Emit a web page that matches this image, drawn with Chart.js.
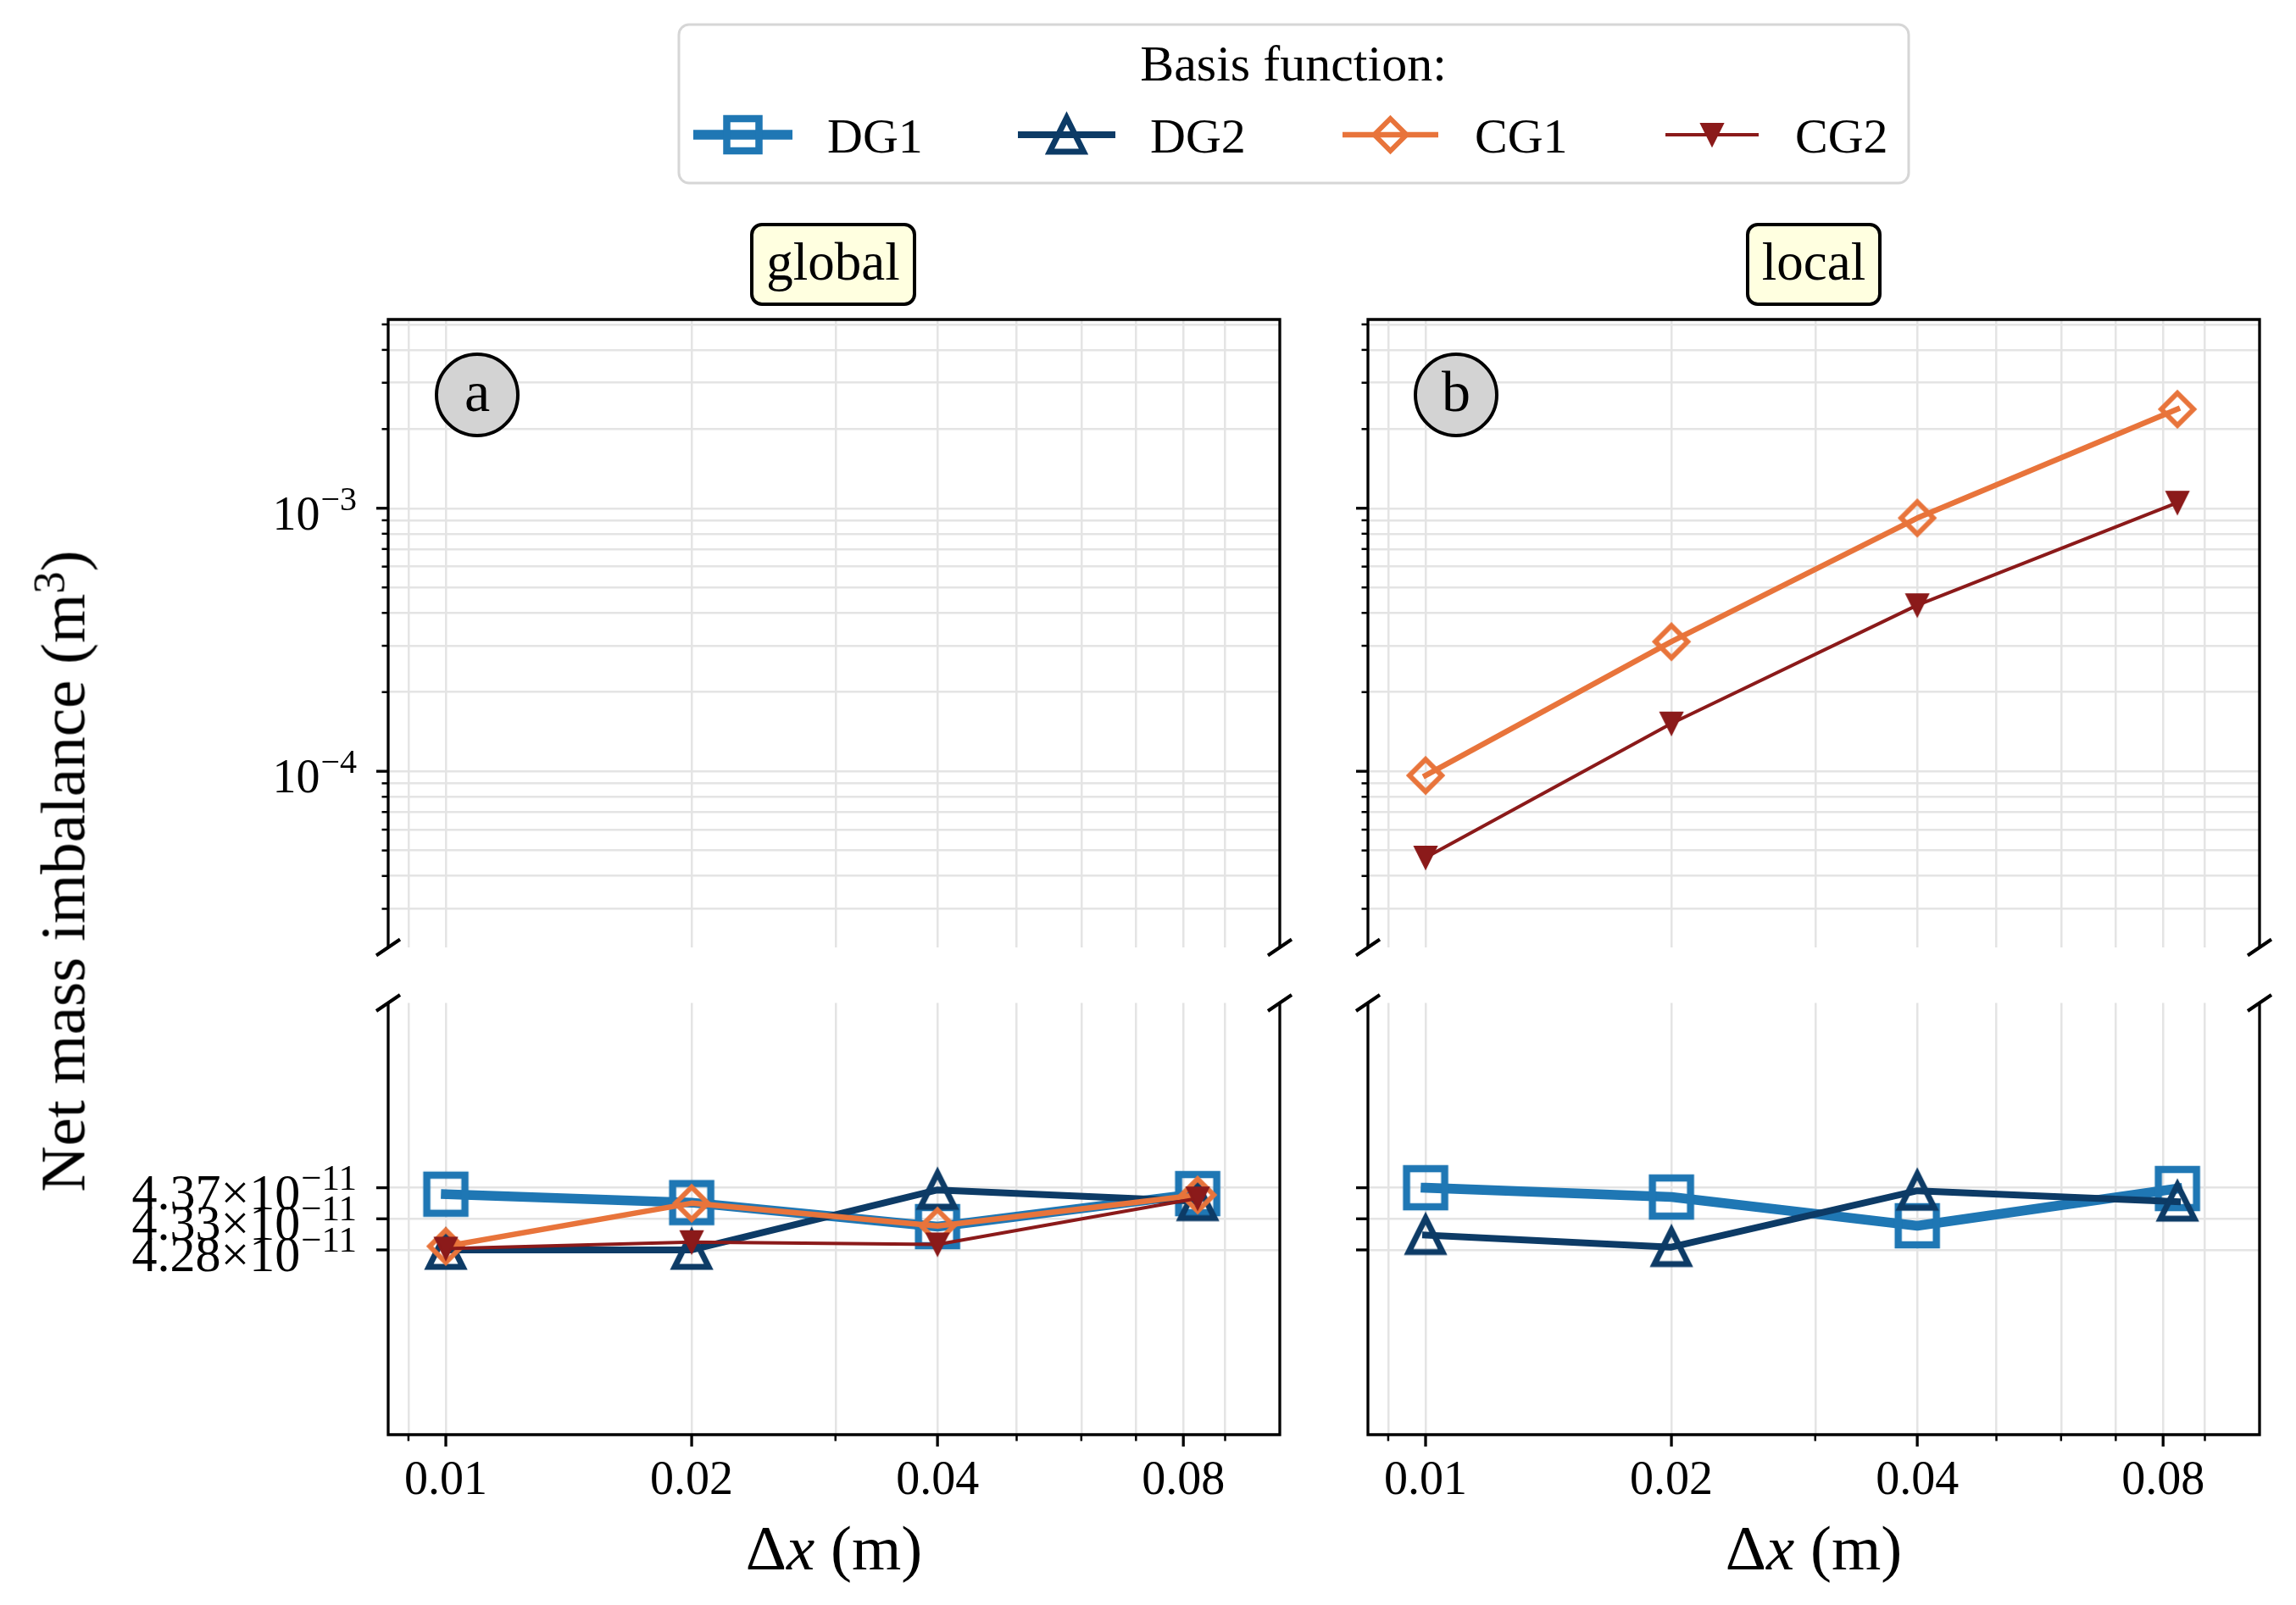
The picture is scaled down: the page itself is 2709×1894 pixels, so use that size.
<!DOCTYPE html>
<html>
<head>
<meta charset="utf-8">
<script src="https://cdn.jsdelivr.net/npm/chart.js@4.4.0/dist/chart.umd.min.js"></script>
<style>
  html, body { margin: 0; padding: 0; background: #fff; overflow: hidden; }
  #fig { position: relative; width: 2709px; height: 1894px; font-family: 'Liberation Serif', 'Times New Roman', serif; color: #000; }
  #fig canvas { position: absolute; }
  .tag { position: absolute; box-sizing: border-box; background: #ffffe0; border: 4px solid #000; border-radius: 14px;
         font-size: 63px; line-height: 1; display: flex; align-items: center; justify-content: center; padding-bottom: 6px; }
  .letter { position: absolute; box-sizing: border-box; width: 100px; height: 100px; border-radius: 50%; background: #d3d3d3;
            border: 4.5px solid #000; font-size: 68px; line-height: 1; display: flex; align-items: center; justify-content: center; padding-bottom: 8px; }
  .xlab { position: absolute; font-size: 75px; line-height: 1; white-space: nowrap; transform: translate(-50%, -50%); }
  #ylab { position: absolute; font-size: 75px; line-height: 1; white-space: nowrap; left: 74px; top: 1028px;
          transform: translate(-50%, -50%) rotate(-90deg); }
  sup { font-size: 0.7em; vertical-align: 0.45em; line-height: 0; }
</style>
</head>
<body>
<div id="fig">
  <svg id="legend" width="2709" height="240" style="position:absolute;left:0;top:0">
    <rect x="801" y="29" width="1451" height="187" rx="12" fill="#fff" stroke="#d6d6d6" stroke-width="3"/>
    <text x="1526" y="95" font-size="60" text-anchor="middle" font-family="Liberation Serif">Basis function:</text>
    <g id="legend-items"></g>
  </svg>

  <div class="tag" style="left:885px;top:263px;width:196px;height:98px">global</div>
  <div class="tag" style="left:2060px;top:263px;width:160px;height:98px">local</div>

  <canvas id="tl" width="1550" height="801" style="left:0;top:347px;width:1550px;height:801px"></canvas>
  <canvas id="bl" width="1550" height="651" style="left:0;top:1152px;width:1550px;height:651px"></canvas>
  <canvas id="tr" width="1169" height="801" style="left:1540px;top:347px;width:1169px;height:801px"></canvas>
  <canvas id="br" width="1169" height="651" style="left:1540px;top:1152px;width:1169px;height:651px"></canvas>

  <div class="letter" style="left:513px;top:416px">a</div>
  <div class="letter" style="left:1668px;top:416px">b</div>

  <div class="xlab" style="left:984px;top:1826px">Δ<i>x</i> (m)</div>
  <div class="xlab" style="left:2140px;top:1826px">Δ<i>x</i> (m)</div>
  <div id="ylab">Net mass imbalance (m<sup>3</sup>)</div>
</div>

<script>
// grid spacing (m)
const dxValues = [0.01, 0.02, 0.04, 0.0833];
const xMajorTicks = [0.01, 0.02, 0.04, 0.08];
const xMajorLabels = ['0.01', '0.02', '0.04', '0.08'];
const xMinorTicks = [0.009, 0.03, 0.05, 0.06, 0.07, 0.09];
const xRange = [0.0085, 0.105];

// net mass imbalance (m^3), global scheme
const globalDG1 = [4.3628e-11, 4.3502e-11, 4.3143e-11, 4.3636e-11];
const globalDG2 = [4.2795e-11, 4.2795e-11, 4.3691e-11, 4.3522e-11];
const globalCG1 = [4.2850e-11, 4.3493e-11, 4.3152e-11, 4.3616e-11];
const globalCG2 = [4.2815e-11, 4.2912e-11, 4.2878e-11, 4.3565e-11];

// local scheme
const localDG1 = [4.3724e-11, 4.3585e-11, 4.3156e-11, 4.3712e-11];
const localDG2 = [4.3017e-11, 4.2837e-11, 4.3679e-11, 4.3515e-11];
const localCG1 = [9.64e-5, 3.11e-4, 9.18e-4, 2.38e-3];
const localCG2 = [4.70e-5, 1.52e-4, 4.28e-4, 1.05e-3];

// upper (log) axis
const yLogRange = [2.14e-5, 5.22e-3];
const yLogMajorTicks = [1e-4, 1e-3];
const yLogMajorLabels = [['10', '−4'], ['10', '−3']];
const yLogMinorTicks = [3e-5, 4e-5, 5e-5, 6e-5, 7e-5, 8e-5, 9e-5,
                        2e-4, 3e-4, 4e-4, 5e-4, 6e-4, 7e-4, 8e-4, 9e-4,
                        2e-3, 3e-3, 4e-3, 5e-3];

// lower (linear) axis
const yLinRange = [4.0034e-11, 4.6486e-11];
const yLinTicks = [4.2795e-11, 4.3260e-11, 4.3724e-11];
const yLinLabels = [['4.28×10', '−11'], ['4.33×10', '−11'], ['4.37×10', '−11']];

const GRID = '#e4e4e4';
const FONT = "'Liberation Serif', 'Times New Roman', serif";

const series = {
  DG1: { color: '#1f77b4', lw: 11.5, shape: 'square',  size: 45, mlw: 8.5, filled: false, order: 4 },
  DG2: { color: '#0d3b66', lw: 8,    shape: 'up',      size: 40, mlw: 7,   filled: false, order: 3 },
  CG1: { color: '#e8743b', lw: 6.5,  shape: 'diamond', size: 38, mlw: 6,   filled: false, order: 2 },
  CG2: { color: '#8b1a1a', lw: 4,    shape: 'down',    size: 26, mlw: 2,   filled: true,  order: 1 }
};

function markerPath(g, shape, m, h) {
  g.beginPath();
  if (shape === 'square') g.rect(m - h, m - h, 2 * h, 2 * h);
  else if (shape === 'up') { g.moveTo(m, m - h); g.lineTo(m + h, m + h); g.lineTo(m - h, m + h); g.closePath(); }
  else if (shape === 'down') { g.moveTo(m, m + h); g.lineTo(m - h, m - h); g.lineTo(m + h, m - h); g.closePath(); }
  else { g.moveTo(m, m - h); g.lineTo(m + h, m); g.lineTo(m, m + h); g.lineTo(m - h, m); g.closePath(); }
}

function markerImage(s) {
  const pad = Math.ceil(s.mlw * 2 + 4);
  const dim = Math.ceil(s.size + 2 * pad);
  const c = document.createElement('canvas');
  c.width = c.height = dim;
  const g = c.getContext('2d');
  markerPath(g, s.shape, dim / 2, s.size / 2);
  if (s.filled) { g.fillStyle = s.color; g.fill(); }
  g.lineJoin = 'miter';
  g.lineWidth = s.mlw;
  g.strokeStyle = s.color;
  g.stroke();
  return c;
}

function dataset(name, values) {
  const s = series[name];
  return {
    label: name,
    data: dxValues.map((x, i) => ({ x: x, y: values[i] })),
    borderColor: s.color,
    backgroundColor: 'transparent',
    borderWidth: s.lw,
    borderCapStyle: 'square',
    borderJoinStyle: 'round',
    tension: 0,
    fill: false,
    pointStyle: markerImage(s),
    pointRadius: 20,
    pointHoverRadius: 20,
    order: s.order
  };
}

function supLabel(ctx, parts, rightX, py, size) {
  ctx.textBaseline = 'alphabetic';
  ctx.font = Math.round(size * 0.71) + 'px ' + FONT;
  const ew = ctx.measureText(parts[1]).width;
  ctx.textAlign = 'left';
  ctx.fillText(parts[1], rightX - ew, py + 2);
  ctx.font = size + 'px ' + FONT;
  ctx.textAlign = 'right';
  ctx.fillText(parts[0], rightX - ew - 1, py + 25);
}

function framePlugin(o) {
  return {
    id: 'frame',
    afterDraw(chart) {
      const ctx = chart.ctx, a = chart.chartArea, xs = chart.scales.x, ys = chart.scales.y;
      ctx.save();
      ctx.strokeStyle = '#000';
      ctx.fillStyle = '#000';
      ctx.lineCap = 'butt';
      // y ticks
      ys.ticks.forEach(t => {
        const major = o.yMajor.includes(t.value);
        const py = ys.getPixelForValue(t.value);
        ctx.lineWidth = major ? 3.3 : 2.5;
        ctx.beginPath();
        ctx.moveTo(a.left, py);
        ctx.lineTo(a.left - (major ? 14 : 7.5), py);
        ctx.stroke();
      });
      if (o.yLabels) {
        const size = o.xAxis ? 60 : 56;
        o.yMajor.forEach((v, i) => supLabel(ctx, o.yLabels[i], a.left - 37, ys.getPixelForValue(v), size));
      }
      // x ticks, lower panels only
      if (o.xAxis) {
        xs.ticks.forEach(t => {
          const major = xMajorTicks.includes(t.value);
          const px = xs.getPixelForValue(t.value);
          ctx.lineWidth = major ? 3.3 : 2.5;
          ctx.beginPath();
          ctx.moveTo(px, a.bottom);
          ctx.lineTo(px, a.bottom + (major ? 14 : 7.5));
          ctx.stroke();
        });
        ctx.font = '56px ' + FONT;
        ctx.textAlign = 'center';
        ctx.textBaseline = 'alphabetic';
        xMajorTicks.forEach((v, i) => ctx.fillText(xMajorLabels[i], xs.getPixelForValue(v), a.bottom + 70));
      }
      // spines
      const e = 1.65;
      ctx.lineWidth = 3.3;
      ctx.beginPath();
      ctx.moveTo(a.left, a.top); ctx.lineTo(a.left, a.bottom);
      ctx.moveTo(a.right, a.top); ctx.lineTo(a.right, a.bottom);
      const sy = o.xAxis ? a.bottom : a.top;
      ctx.moveTo(a.left - e, sy); ctx.lineTo(a.right + e, sy);
      ctx.stroke();
      // break marks
      const by = o.xAxis ? a.top : a.bottom;
      ctx.lineWidth = 4;
      ctx.beginPath();
      [a.left, a.right].forEach(bx => { ctx.moveTo(bx - 14, by + 9.5); ctx.lineTo(bx + 14, by - 9.5); });
      ctx.stroke();
      ctx.restore();
    }
  };
}

function makeChart(id, box, upper, datasets, showLabels) {
  const yMajor = upper ? yLogMajorTicks : yLinTicks;
  const yAll = upper ? yLogMajorTicks.concat(yLogMinorTicks) : yLinTicks;
  const yRange = upper ? yLogRange : yLinRange;
  return new Chart(document.getElementById(id), {
    type: 'line',
    data: { datasets: datasets },
    options: {
      responsive: false,
      animation: false,
      devicePixelRatio: 1,
      events: [],
      layout: { padding: { top: box.t, right: box.r, bottom: 0, left: 0 } },
      plugins: { legend: { display: false }, tooltip: { enabled: false } },
      scales: {
        x: {
          type: 'logarithmic',
          min: xRange[0],
          max: xRange[1],
          afterBuildTicks: s => { s.ticks = xMajorTicks.concat(xMinorTicks).map(v => ({ value: v })); },
          afterFit: s => { s.height = box.b; },
          ticks: { display: false },
          grid: { color: GRID, lineWidth: 2.5, drawTicks: false },
          border: { display: false }
        },
        y: {
          type: upper ? 'logarithmic' : 'linear',
          min: yRange[0],
          max: yRange[1],
          afterBuildTicks: s => { s.ticks = yAll.map(v => ({ value: v })); },
          afterFit: s => { s.width = box.l; },
          ticks: { display: false },
          grid: { color: GRID, lineWidth: 2.5, drawTicks: false },
          border: { display: false }
        }
      }
    },
    plugins: [framePlugin({ yMajor: yMajor, yLabels: showLabels ? (upper ? yLogMajorLabels : yLinLabels) : null, xAxis: !upper })]
  });
}

makeChart('tl', { l: 458, t: 30, r: 40, b: 30 }, true, [], true);
makeChart('bl', { l: 458, t: 30, r: 40, b: 110 }, false, [
  dataset('DG1', globalDG1), dataset('DG2', globalDG2), dataset('CG1', globalCG1), dataset('CG2', globalCG2)
], true);
makeChart('tr', { l: 74, t: 30, r: 43, b: 30 }, true, [
  dataset('CG1', localCG1), dataset('CG2', localCG2)
], false);
makeChart('br', { l: 74, t: 30, r: 43, b: 110 }, false, [
  dataset('DG1', localDG1), dataset('DG2', localDG2)
], false);

// legend entries
const legendItems = [
  { name: 'DG1', x1: 818, x2: 935, tx: 976 },
  { name: 'DG2', x1: 1201, x2: 1316, tx: 1357 },
  { name: 'CG1', x1: 1584, x2: 1697, tx: 1740 },
  { name: 'CG2', x1: 1965, x2: 2075, tx: 2118 }
];
const NS = 'http://www.w3.org/2000/svg';
const lg = document.getElementById('legend-items');
legendItems.forEach(it => {
  const s = series[it.name];
  const cy = 159, cx = (it.x1 + it.x2) / 2;
  const line = document.createElementNS(NS, 'line');
  line.setAttribute('x1', it.x1); line.setAttribute('x2', it.x2);
  line.setAttribute('y1', cy); line.setAttribute('y2', cy);
  line.setAttribute('stroke', s.color); line.setAttribute('stroke-width', s.lw);
  lg.appendChild(line);
  const h = (it.name === 'DG1' ? 38 : s.size) / 2;
  let pts;
  if (s.shape === 'square') pts = [[cx - h, cy - h], [cx + h, cy - h], [cx + h, cy + h], [cx - h, cy + h]];
  else if (s.shape === 'up') pts = [[cx, cy - h], [cx + h, cy + h], [cx - h, cy + h]];
  else if (s.shape === 'down') pts = [[cx, cy + h], [cx - h, cy - h], [cx + h, cy - h]];
  else pts = [[cx, cy - h], [cx + h, cy], [cx, cy + h], [cx - h, cy]];
  const poly = document.createElementNS(NS, 'polygon');
  poly.setAttribute('points', pts.map(p => p.join(',')).join(' '));
  poly.setAttribute('fill', s.filled ? s.color : 'none');
  poly.setAttribute('stroke', s.color);
  poly.setAttribute('stroke-width', s.mlw);
  lg.appendChild(poly);
  const t = document.createElementNS(NS, 'text');
  t.setAttribute('x', it.tx); t.setAttribute('y', 180);
  t.setAttribute('font-size', 58); t.setAttribute('font-family', 'Liberation Serif');
  t.textContent = it.name;
  lg.appendChild(t);
});
</script>
</body>
</html>
